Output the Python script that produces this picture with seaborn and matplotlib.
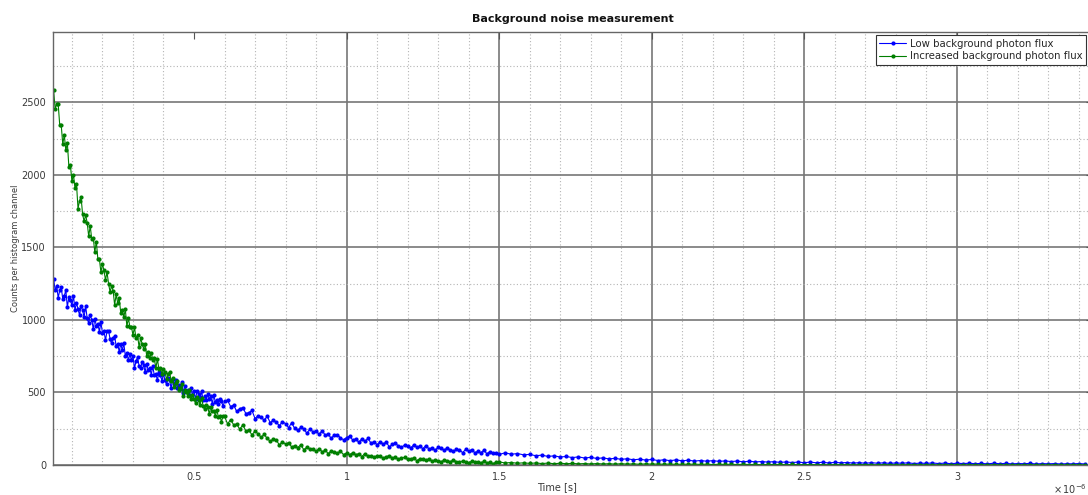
import numpy as np
import pandas as pd
import matplotlib
matplotlib.use("Agg")
import matplotlib.pyplot as plt
import seaborn as sns
from matplotlib.ticker import MultipleLocator, FixedLocator

# ---------------- data (time in units of 1e-6 s) ----------------
time_a = np.round(np.arange(0.040, 0.6025, 0.005), 3)   # 113 samples
time_b = np.round(np.arange(0.61, 1.505, 0.01), 2)      # 90 samples
time_c = np.round(np.arange(1.52, 3.425, 0.02), 2)      # 96 samples
time_us = np.concatenate([time_a, time_b, time_c])

low_flux = [
    # 0.040 .. 0.600 step 0.005
    1284, 1205, 1235, 1153, 1203, 1224, 1144, 1165, 1206, 1088,
    1158, 1137, 1100, 1168, 1068, 1116, 1077, 1032, 1096, 1067,
    1018, 1097, 1010, 977, 1032, 1003, 936, 1008, 961, 974,
    918, 983, 912, 924, 860, 922, 926, 869, 838, 874,
    889, 819, 837, 779, 837, 791, 838, 753, 775, 722,
    765, 722, 754, 667, 715, 744, 684, 668, 710, 687,
    641, 699, 653, 672, 622, 681, 617, 630, 584, 638,
    617, 581, 627, 584, 556, 597, 587, 529, 590, 557,
    589, 528, 551, 526, 574, 499, 544, 512, 518, 486,
    532, 484, 508, 457, 509, 490, 470, 507, 448, 479,
    449, 487, 455, 473, 422, 483, 433, 446, 419, 454,
    442, 404, 438,
    # 0.61 .. 1.50 step 0.01
    445, 403, 413, 369, 389, 395, 355, 361, 376, 320,
    340, 328, 309, 336, 291, 311, 293, 272, 299, 285,
    257, 291, 252, 238, 260, 247, 219, 249, 229, 234,
    211, 236, 206, 211, 183, 209, 209, 187, 174, 189,
    199, 172, 180, 157, 180, 163, 183, 151, 160, 140,
    161, 145, 158, 125, 142, 152, 129, 122, 137, 128,
    117, 138, 122, 129, 112, 134, 111, 117, 101, 122,
    114, 102, 119, 104, 94, 109, 105, 85, 107, 95,
    106, 85, 94, 85, 102, 77, 93, 82, 84, 73,
    # 1.52 .. 3.42 step 0.02
    84, 74, 79, 70, 73, 64, 68, 59, 63, 55,
    59, 51, 56, 48, 53, 45, 49, 42, 46, 39,
    43, 36, 40, 34, 38, 31, 36, 30, 35, 29,
    33, 27, 31, 26, 30, 25, 28, 24, 27, 22,
    26, 21, 24, 20, 23, 18, 21, 17, 20, 16,
    20, 15, 19, 14, 18, 15, 17, 13, 16, 12,
    16, 12, 15, 11, 14, 12, 15, 10, 13, 11,
    14, 10, 13, 9, 12, 10, 12, 9, 11, 8,
    12, 9, 11, 8, 10, 9, 11, 7, 10, 8,
    10, 7, 9, 8, 10, 7,
]

increased_flux = [
    # 0.040 .. 0.600 step 0.005
    2585, 2454, 2489, 2488, 2345, 2342, 2212, 2276, 2169, 2221,
    2057, 2069, 1956, 2002, 1909, 1937, 1767, 1823, 1846, 1728,
    1680, 1724, 1670, 1577, 1648, 1556, 1564, 1468, 1540, 1420,
    1420, 1329, 1385, 1341, 1275, 1330, 1251, 1193, 1235, 1201,
    1103, 1176, 1116, 1148, 1049, 1068, 1020, 1073, 958, 1010,
    954, 952, 897, 949, 873, 896, 814, 873, 837, 801,
    837, 752, 782, 736, 775, 725, 736, 666, 731, 662,
    668, 628, 661, 642, 590, 625, 641, 581, 597, 536,
    566, 576, 520, 531, 555, 476, 519, 502, 474, 517,
    453, 482, 457, 426, 466, 447, 414, 463, 405, 384,
    417, 398, 354, 399, 369, 375, 339, 377, 332, 338,
    298, 335, 336,
    # 0.61 .. 1.50 step 0.01
    283, 313, 277, 282, 246, 277, 235, 239, 208, 233,
    215, 191, 211, 183, 163, 180, 170, 138, 162, 143,
    155, 124, 133, 120, 139, 105, 123, 109, 109, 95,
    113, 92, 101, 79, 98, 90, 82, 95, 72, 83,
    71, 85, 72, 77, 58, 79, 60, 63, 53, 64,
    59, 47, 58, 63, 49, 55, 39, 49, 52, 38,
    42, 49, 30, 42, 38, 32, 43, 27, 35, 30,
    23, 34, 30, 23, 35, 23, 19, 28, 24, 15,
    26, 20, 23, 15, 25, 16, 19, 10, 20, 21,
    # 1.52 .. 3.42 step 0.02
    14, 17, 12, 15, 11, 14, 10, 13, 9, 12,
    9, 11, 8, 10, 7, 10, 7, 9, 6, 9,
    6, 8, 5, 8, 6, 7, 5, 7, 4, 6,
    5, 6, 4, 6, 3, 5, 4, 5, 3, 5,
    3, 4, 2, 4, 3, 4, 2, 4, 2, 3,
    3, 2, 3, 1, 3, 2, 3, 1, 2, 3,
    2, 1, 3, 2, 2, 1, 2, 2, 1, 2,
    2, 1, 2, 1, 2, 1, 1, 2, 1, 2,
    1, 2, 1, 1, 2, 1, 1, 2, 1, 1,
    2, 1, 1, 2, 1, 1,
]

series_labels = ["Low background photon flux", "Increased background photon flux"]
series_colors = ["#0000ff", "#007f00"]
x_ticks = [0.5, 1, 1.5, 2, 2.5, 3]
x_tick_labels = ["0.5", "1", "1.5", "2", "2.5", "3"]
y_ticks = [0, 500, 1000, 1500, 2000, 2500]
title_text = "Background noise measurement"
x_label = "Time [s]"
y_label = "Counts per histogram channel"
offset_label = r"$\times\,10^{-6}$"

df = pd.DataFrame({
    "time": np.concatenate([time_us, time_us]),
    "counts": np.concatenate([low_flux, increased_flux]),
    "series": [series_labels[0]] * len(time_us) + [series_labels[1]] * len(time_us),
})

# ---------------- style ----------------
sns.set_style("white")
plt.rcParams["font.family"] = ["DejaVu Sans"]

W, H = 1088, 495
fig = plt.figure(figsize=(W / 100, H / 100), dpi=100)
ax_left, ax_right, ax_top, ax_bottom = 53, 1093, 32, 465
ax = fig.add_axes([ax_left / W, (H - ax_bottom) / H,
                   (ax_right - ax_left) / W, (ax_bottom - ax_top) / H])

for lab, col in zip(series_labels, series_colors):
    sub = df[df["series"] == lab]
    sns.lineplot(data=sub, x="time", y="counts", ax=ax, color=col,
                 marker=".", markersize=6, markeredgewidth=0,
                 linewidth=0.8, label=lab, estimator=None, sort=False)

ax.set_xlim(0.038, 3.446)
ax.set_ylim(0, 2985)

ax.xaxis.set_major_locator(FixedLocator(x_ticks))
ax.set_xticklabels(x_tick_labels)
ax.xaxis.set_minor_locator(MultipleLocator(0.1))
ax.yaxis.set_major_locator(FixedLocator(y_ticks))
ax.yaxis.set_minor_locator(MultipleLocator(250))

ax.grid(True, which="major", color="#777777", linewidth=1.2, linestyle="-")
ax.grid(True, which="minor", color="#b4b4b4", linewidth=0.8, linestyle=(0, (1, 2)))
ax.set_axisbelow(True)
# the major grid line at 0.5 is not drawn in the reference
ax.get_xgridlines()[0].set_visible(False)

ax.tick_params(axis="both", which="major", direction="in", length=5,
               color="#555555", labelsize=7, labelcolor="#3a3a3a",
               top=True, right=True, pad=5)
ax.tick_params(axis="both", which="minor", length=0)

for sp in ax.spines.values():
    sp.set_color("#666666")
    sp.set_linewidth(1.0)

ax.set_title(title_text, fontsize=8, fontweight="bold", pad=7, color="#111111")
ax.set_xlabel(x_label, fontsize=7, color="#3a3a3a", va="center")
ax.set_ylabel(y_label, fontsize=6, color="#3a3a3a", va="center")
ax.xaxis.set_label_coords((557 - ax_left) / (ax_right - ax_left), (ax_bottom - 487) / (ax_bottom - ax_top))
ax.yaxis.set_label_coords((16 - ax_left) / (ax_right - ax_left), 0.5)

leg = ax.legend(loc="upper right", bbox_to_anchor=(1086 / W, 1 - 35 / H),
                bbox_transform=fig.transFigure, fontsize=7.3, frameon=True,
                fancybox=False, framealpha=1, edgecolor="#333333",
                borderpad=0.35, handlelength=2.6, handletextpad=0.4,
                labelspacing=0.25, borderaxespad=0, numpoints=1)
leg.get_frame().set_linewidth(0.8)

fig.text(1087 / W, 1 - 489 / H, offset_label, fontsize=7, color="#3a3a3a",
         ha="right", va="center")

fig.savefig("out.png", dpi=100)
